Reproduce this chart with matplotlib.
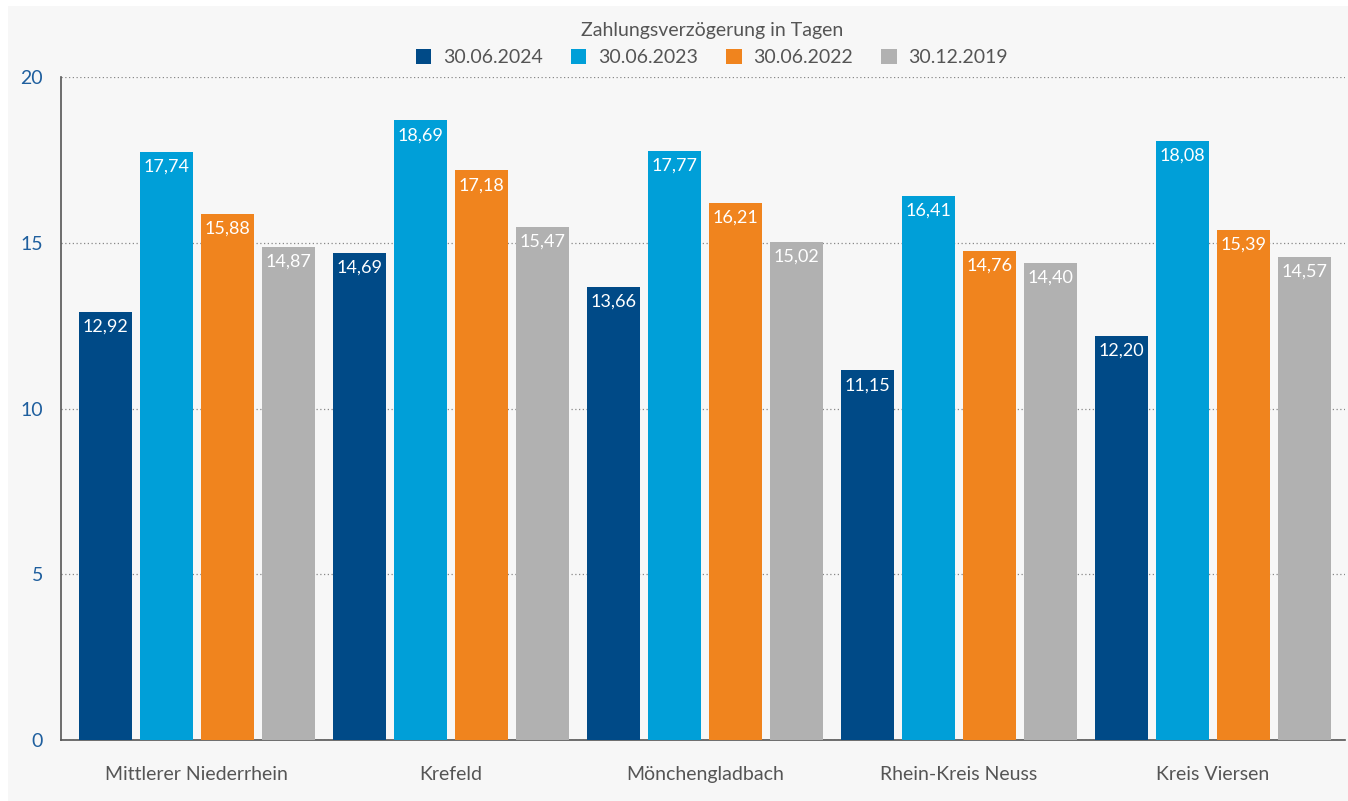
import matplotlib
matplotlib.use("Agg")
import matplotlib.pyplot as plt
from matplotlib.patches import Rectangle
import numpy as np

categories = ["Mittlerer Niederrhein", "Krefeld", "Mönchengladbach", "Rhein-Kreis Neuss", "Kreis Viersen"]
series_names = ["30.06.2024", "30.06.2023", "30.06.2022", "30.12.2019"]
v2024 = [12.92, 14.69, 13.66, 11.15, 12.20]
v2023 = [17.74, 18.69, 17.77, 16.41, 18.08]
v2022 = [15.88, 17.18, 16.21, 14.76, 15.39]
v2019 = [14.87, 15.47, 15.02, 14.40, 14.57]
yticks = [0, 5, 10, 15, 20]
legend_title = "Zahlungsverzögerung in Tagen"

colors = ["#004a87", "#009fd8", "#f0841e", "#b1b1b1"]
plt.rcParams['font.family'] = ['Lato', 'DejaVu Sans']

fig = plt.figure(figsize=(13.48, 8.01), dpi=100, facecolor="white")
W, H = 1348, 801
fig.patches.append(Rectangle((8 / W, 0), 1 - 8 / W, 1 - 6 / H, transform=fig.transFigure,
                             facecolor="#f7f7f7", edgecolor="none", zorder=-5))

ax = fig.add_axes([61 / W, 1 - 740 / H, (1345 - 61) / W, (740 - 77) / H])
ax.set_facecolor("#f7f7f7")
ax.patch.set_alpha(0)

x = np.arange(len(categories))
step = 0.24
width = 0.208
all_series = [v2024, v2023, v2022, v2019]
for i, (vals, c, name) in enumerate(zip(all_series, colors, series_names)):
    pos = x + (i - 1.5) * step
    ax.bar(pos, vals, width=width, color=c, label=name, zorder=3)
    for xp, v in zip(pos, vals):
        ax.text(xp, v - 0.45, f"{v:.2f}".replace(".", ","), ha="center", va="center",
                color="white", fontsize=13, zorder=4)

ax.set_xlim(-0.535, 4.52)
ax.set_ylim(0, 20)
ax.set_yticks(yticks)
ax.set_yticklabels([str(t) for t in yticks], color="#1f5f9e", fontsize=14)
ax.set_xticks(x)
ax.set_xticklabels(categories, color="#555555", fontsize=14)
ax.tick_params(axis="both", length=0)
ax.tick_params(axis="y", pad=13)
ax.tick_params(axis="x", pad=19)
ax.yaxis.grid(True, linestyle=(0, (1, 2)), color="#888888", linewidth=0.9, zorder=0)
ax.set_axisbelow(True)
for s in ["top", "right"]:
    ax.spines[s].set_visible(False)
for s in ["left", "bottom"]:
    ax.spines[s].set_color("#555555")
    ax.spines[s].set_linewidth(1.2)

leg = fig.legend(loc="upper center", bbox_to_anchor=(712 / W, 1 - 5 / H), ncol=4, frameon=False,
                 fontsize=14, title=legend_title, title_fontsize=14, handlelength=0.8,
                 handleheight=0.8, columnspacing=1.45, handletextpad=0.6)
for t in leg.get_texts():
    t.set_color("#555555")
leg.get_title().set_color("#555555")
leg._legend_box.sep = 7

fig.savefig("out.png", dpi=100, facecolor="white")
